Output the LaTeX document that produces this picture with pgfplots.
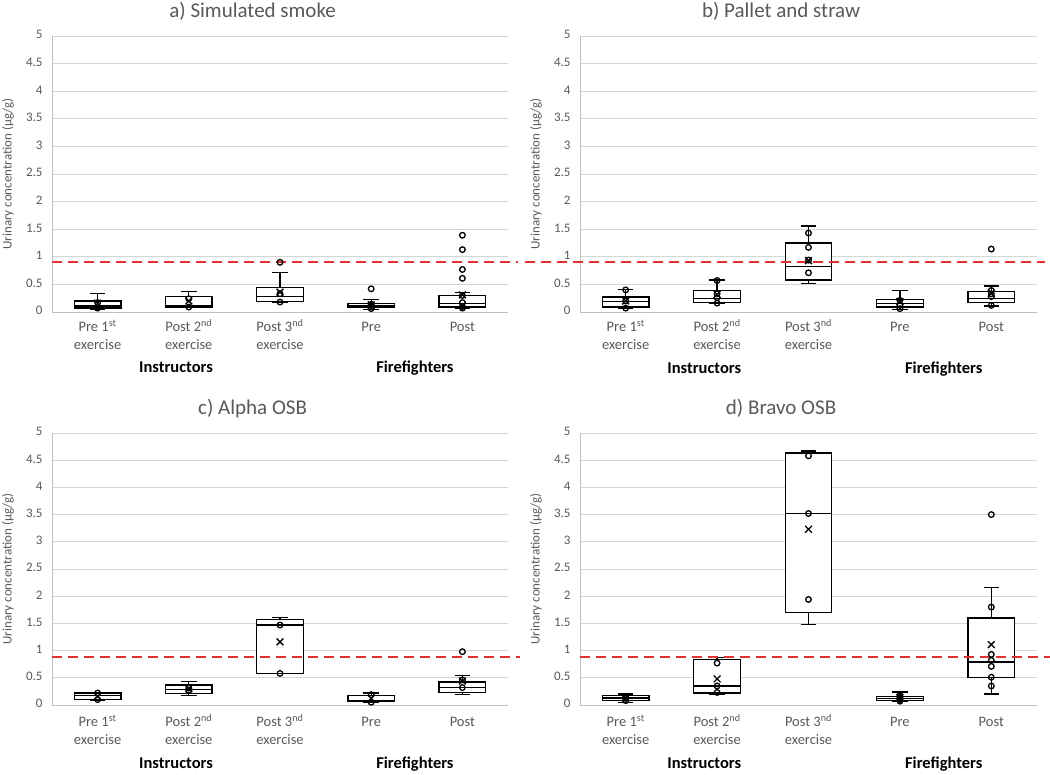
\documentclass[border=0pt]{standalone}
\usepackage{pgfplots}
\pgfplotsset{compat=1.18}
\usepgfplotslibrary{statistics}
\usepackage{fontspec}
\setmainfont{Carlito}
\definecolor{tickc}{HTML}{595959}
\definecolor{gridc}{HTML}{D4D4D4}
\definecolor{axc}{HTML}{BFBFBF}
\definecolor{refc}{HTML}{E3312F}

\newcommand{\bx}[6]{\addplot[boxplot prepared={draw direction=y, draw position=#1, lower whisker=#2, lower quartile=#3, median=#4, upper quartile=#5, upper whisker=#6, box extend=0.51, whisker extend=0.17}, draw=black, fill=white, line width=1.3pt, solid] coordinates {};}

\tikzset{grp/.style={anchor=base, font=\bfseries\fontsize{16.5}{19}\selectfont, text=black}}

\pgfplotsset{
 panel/.style={
  scale only axis, width=456pt, height=276pt,
  xmin=-0.5, xmax=4.5, ymin=0, ymax=5,
  axis x line*=bottom, axis y line*=left,
  axis line style={-, draw=axc, line width=0.9pt},
  ytick={0,0.5,1,1.5,2,2.5,3,3.5,4,4.5,5},
  yticklabels={0,0.5,1,1.5,2,2.5,3,3.5,4,4.5,5},
  xtick={0,1,2,3,4},
  xticklabels={{Pre 1\textsuperscript{st}\\exercise},{Post 2\textsuperscript{nd}\\exercise},{Post 3\textsuperscript{nd}\\exercise},Pre,Post},
  typeset ticklabels with strut,
  major tick length=0pt,
  ymajorgrids, major grid style={draw=gridc, line width=0.9pt},
  yticklabel style={font=\fontsize{13}{15}\selectfont, text=tickc, xshift=-6pt},
  xticklabel style={font=\fontsize{14.5}{17.5}\selectfont, text=tickc, align=center, anchor=north, yshift=-4pt},
  ylabel={Urinary concentration (µg/g)},
  every axis y label/.style={at={(axis description cs:-0.0965,0.5)}, rotate=90, anchor=center, font=\fontsize{13}{15}\selectfont, text=tickc},
  title style={at={(axis description cs:0.44,1)}, anchor=base, yshift=12pt, font=\fontsize{21}{24}\selectfont, text=tickc},
  clip=false,
 },
 meanm/.style={only marks, mark=x, mark size=4.8pt, line width=1.3pt, black},
 ptm/.style={only marks, mark=o, mark size=2.8pt, line width=1.3pt, black},
 refl/.style={refc, line width=1.8pt, dash pattern=on 10pt off 6pt},
}

\begin{document}
\begin{tikzpicture}
\path[use as bounding box] (0,0) rectangle (1050pt,775pt);

% ---------------- a) Simulated smoke
\begin{axis}[panel, at={(52pt,463pt)}, anchor=south west, title={a) Simulated smoke}]
\bx{0}{0.05}{0.07}{0.11}{0.20}{0.34}
\bx{1}{0.08}{0.09}{0.12}{0.28}{0.37}
\bx{2}{0.18}{0.19}{0.28}{0.44}{0.72}
\bx{3}{0.05}{0.08}{0.11}{0.16}{0.22}
\bx{4}{0.06}{0.09}{0.15}{0.30}{0.35}
\addplot[meanm] coordinates {(0,0.16) (1,0.20) (2,0.36) (3,0.13) (4,0.31)};
\addplot[ptm] coordinates {(0,0.07) (0,0.17) (1,0.09) (1,0.24) (2,0.18) (2,0.33) (2,0.90)
 (3,0.06) (3,0.09) (3,0.12) (3,0.14) (3,0.42)
 (4,0.07) (4,0.10) (4,0.17) (4,0.30) (4,0.61) (4,0.77) (4,1.13) (4,1.39)};
\addplot[refl] coordinates {(-0.5,0.9) (4.61,0.9)};
\node[grp, yshift=-61pt] at (axis cs:0.86,0) {Instructors};
\node[grp, yshift=-61pt] at (axis cs:3.48,0) {Firefighters};
\end{axis}

% ---------------- b) Pallet and straw
\begin{axis}[panel, width=457pt, at={(580pt,463pt)}, anchor=south west, title={b) Pallet and straw}]
\bx{0}{0.06}{0.09}{0.19}{0.27}{0.41}
\bx{1}{0.15}{0.17}{0.24}{0.39}{0.58}
\bx{2}{0.52}{0.58}{0.83}{1.25}{1.56}
\bx{3}{0.04}{0.09}{0.15}{0.23}{0.39}
\bx{4}{0.11}{0.17}{0.25}{0.37}{0.47}
\addplot[meanm] coordinates {(0,0.20) (1,0.32) (2,0.93) (3,0.19) (4,0.34)};
\addplot[ptm] coordinates {(0,0.07) (0,0.20) (0,0.40) (1,0.16) (1,0.26) (1,0.33) (1,0.57)
 (2,0.71) (2,0.94) (2,1.17) (2,1.43) (3,0.06) (3,0.12) (3,0.21)
 (4,0.12) (4,0.28) (4,0.33) (4,0.39) (4,1.14)};
\addplot[refl] coordinates {(-1.1,0.9) (4.59,0.9)};
\node[grp, yshift=-62pt] at (axis cs:0.86,0) {Instructors};
\node[grp, yshift=-62pt] at (axis cs:3.48,0) {Firefighters};
\end{axis}

% ---------------- c) Alpha OSB
\begin{axis}[panel, height=272pt, at={(52pt,70pt)}, anchor=south west, title={c) Alpha OSB}, xticklabel style={yshift=-2pt}]
\bx{0}{0.09}{0.10}{0.17}{0.22}{0.23}
\bx{1}{0.17}{0.21}{0.28}{0.37}{0.43}
\bx{2}{0.58}{0.58}{1.47}{1.57}{1.61}
\bx{3}{0.05}{0.06}{0.08}{0.18}{0.22}
\bx{4}{0.19}{0.23}{0.32}{0.42}{0.54}
\addplot[meanm] coordinates {(0,0.16) (1,0.30) (2,1.16) (3,0.12) (4,0.44)};
\addplot[ptm] coordinates {(0,0.10) (0,0.22) (1,0.27) (1,0.31) (2,0.58) (2,1.47)
 (3,0.05) (3,0.19) (4,0.32) (4,0.46) (4,0.98)};
\addplot[refl] coordinates {(-0.5,0.88) (4.63,0.88)};
\node[grp, yshift=-64pt] at (axis cs:0.86,0) {Instructors};
\node[grp, yshift=-64pt] at (axis cs:3.48,0) {Firefighters};
\end{axis}

% ---------------- d) Bravo OSB
\begin{axis}[panel, width=457pt, height=272pt, at={(580pt,70pt)}, anchor=south west, title={d) Bravo OSB}, xticklabel style={yshift=-2pt}]
\bx{0}{0.05}{0.08}{0.13}{0.18}{0.20}
\bx{1}{0.20}{0.22}{0.35}{0.83}{0.87}
\bx{2}{1.48}{1.70}{3.52}{4.63}{4.67}
\bx{3}{0.06}{0.08}{0.12}{0.16}{0.24}
\bx{4}{0.20}{0.50}{0.79}{1.60}{2.16}
\addplot[meanm] coordinates {(0,0.13) (1,0.48) (2,3.23) (3,0.14) (4,1.11)};
\addplot[ptm] coordinates {(0,0.08) (0,0.12) (0,0.16) (1,0.23) (1,0.35) (1,0.77)
 (2,1.94) (2,3.52) (2,4.58) (3,0.07) (3,0.10) (3,0.14) (3,0.17)
 (4,0.35) (4,0.51) (4,0.71) (4,0.82) (4,0.93) (4,1.80) (4,3.50)};
\addplot[refl] coordinates {(-0.5,0.88) (4.64,0.88)};
\node[grp, yshift=-64pt] at (axis cs:0.86,0) {Instructors};
\node[grp, yshift=-64pt] at (axis cs:3.48,0) {Firefighters};
\end{axis}
\end{tikzpicture}
\end{document}
